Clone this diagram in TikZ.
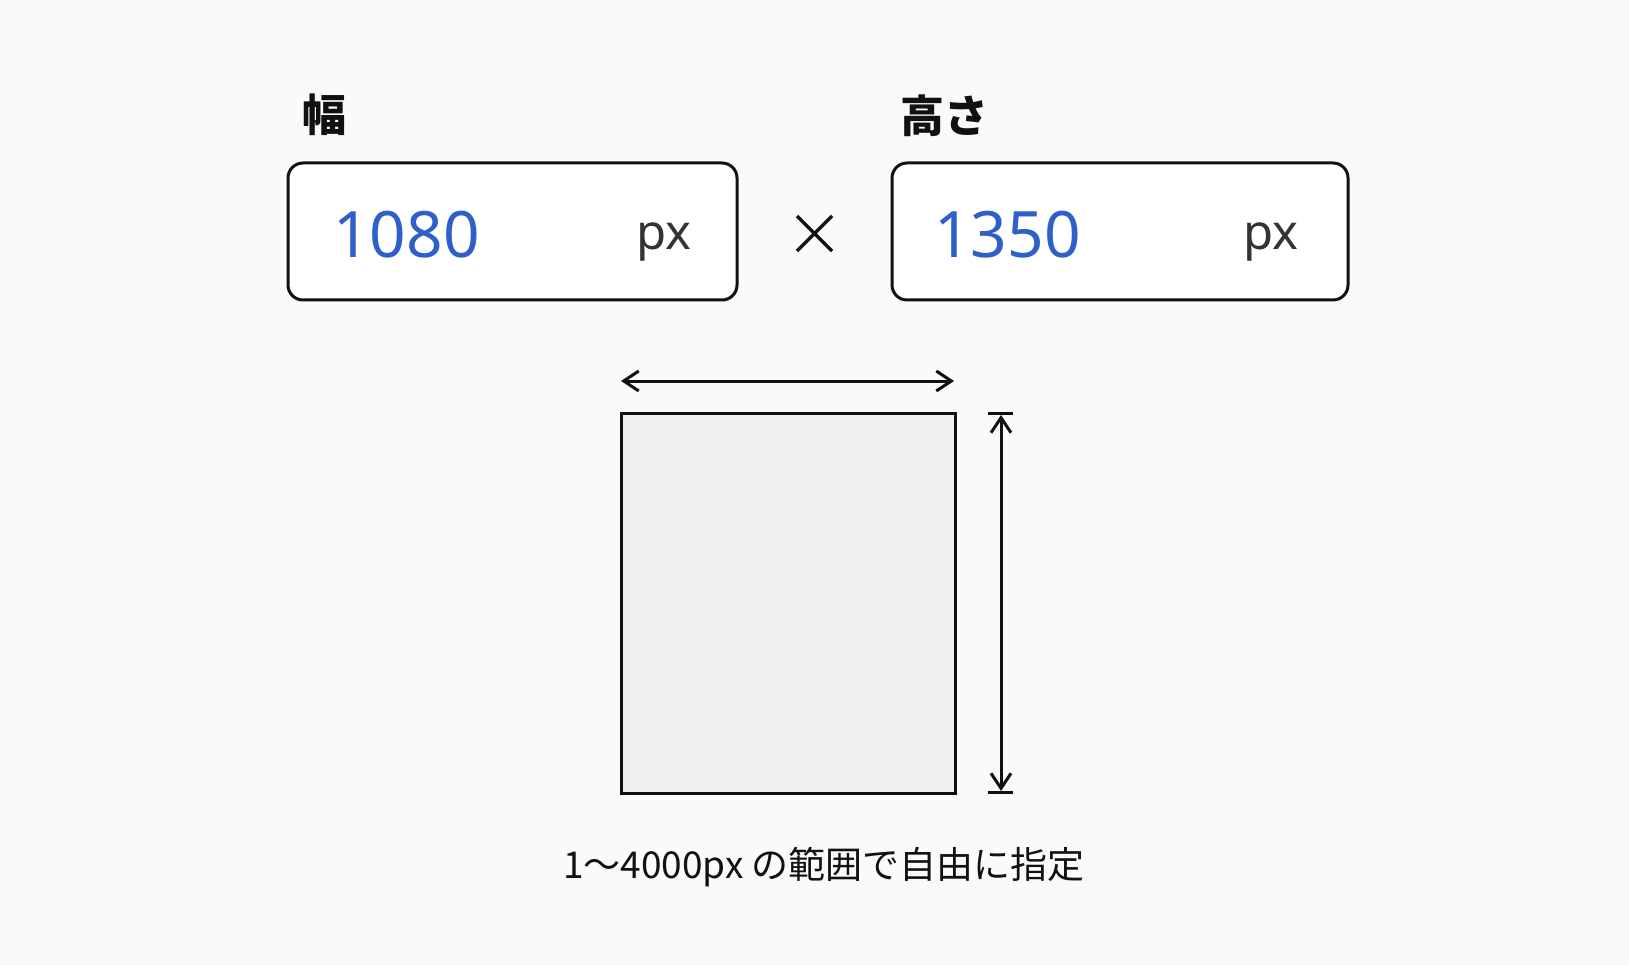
\documentclass[tikz,border=0pt]{standalone}
\usepackage{fontspec}
\setmainfont{Noto Sans}
\newfontfamily\jp{Noto Sans CJK JP}
\usetikzlibrary{arrows.meta}
\definecolor{bg}{HTML}{FAFAFA}
\definecolor{numblue}{HTML}{2F5FC8}
\definecolor{unitgray}{HTML}{333333}
\definecolor{paper}{HTML}{F0F0F0}
\definecolor{ink}{HTML}{111111}
\begin{document}
\begin{tikzpicture}[x=1pt,y=-1pt,
  lbl/.style={inner sep=0pt, text=ink, font=\jp\bfseries\fontsize{44}{50}\selectfont},
  field/.style={draw=ink, line width=3pt, rounded corners=15pt, fill=white, minimum width=449pt, minimum height=137pt, inner sep=0pt},
  num/.style={inner sep=0pt, text=numblue, font=\fontsize{64}{70}\selectfont},
  unit/.style={inner sep=0pt, text=unitgray, font=\fontsize{49}{55}\selectfont},
  sheet/.style={draw=ink, line width=3pt, fill=paper, minimum width=334pt, minimum height=380pt, inner sep=0pt},
  dim/.style={draw=ink, line width=3pt, {Straight Barb[length=15pt,width=20pt]}-{Straight Barb[length=15pt,width=20pt]}},
  capline/.style={draw=ink, line width=3pt},
  note/.style={inner sep=0pt, text=ink, font=\jp\fontsize{37}{42}\selectfont}
]
\fill[bg] (0,0) rectangle (1629,965);
\useasboundingbox (0,0) rectangle (1629,965);

% labels
\node[lbl, anchor=west] (wlabel) at (302,115) {幅};
\node[lbl, anchor=west] (hlabel) at (900,116) {高さ};

% input fields
\node[field] (wbox) at (512.5,231.5) {};
\node[field, minimum width=456pt] (hbox) at (1120,231.5) {};

\node[num, anchor=base west] (wnum) at (333,258) {1080};
\node[unit, anchor=base west] (wunit) at (636,250) {px};
\node[num, anchor=base west] (hnum) at (934,258) {1350};
\node[unit, anchor=base west] (hunit) at (1243,250) {px};

% multiplication sign
\coordinate (x1) at (797,216);
\coordinate (x2) at (832,251);
\coordinate (x3) at (797,251);
\coordinate (x4) at (832,216);
\draw[line width=3.5pt, ink] (x1) -- (x2) (x3) -- (x4);

% sheet
\node[sheet] (sheet) at (788,603) {};

% width dimension
\coordinate (hl) at (621,381);
\coordinate (hr) at (954,381);
\draw[dim] (hl) -- (hr);

% height dimension
\coordinate (vt) at (1001,415);
\coordinate (vb) at (1001,791);
\draw[dim] (vt) -- (vb);
\coordinate (ct1) at (988,413);
\coordinate (ct2) at (1013,413);
\coordinate (cb1) at (988,792);
\coordinate (cb2) at (1013,792);
\draw[capline] (ct1) -- (ct2);
\draw[capline] (cb1) -- (cb2);

% note
\node[note, anchor=base] (notetext) at (824,878) {1～4000px の範囲で自由に指定};
\end{tikzpicture}
\end{document}
